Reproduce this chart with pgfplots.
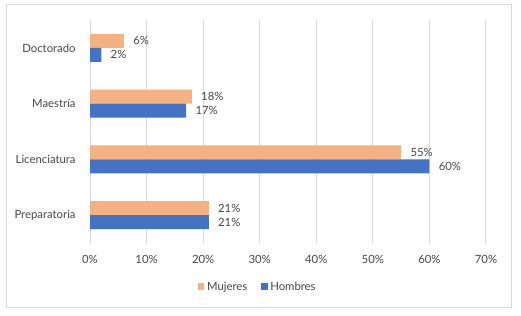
\documentclass[border=0pt]{standalone}
\usepackage{pgfplots}
\pgfplotsset{compat=1.18}
\usepackage{fontspec}
\setmainfont{Lato}
\definecolor{muj}{HTML}{F4B183}
\definecolor{hom}{HTML}{4472C4}
\definecolor{txt}{HTML}{474747}
\definecolor{grd}{HTML}{D9D9D9}
\begin{document}
\begin{tikzpicture}
\fill[white] (0pt,0pt) rectangle (390.75pt,236.25pt);
\draw[grd, line width=0.75pt] (4.5pt,6pt) rectangle (383.25pt,232.5pt);
\begin{axis}[
  at={(67.5pt,54pt)}, anchor=south west,
  scale only axis, width=297pt, height=167.25pt,
  xbar, bar width=10.5pt,
  xmin=0, xmax=70, ymin=-0.5, ymax=3.5,
  xtick={0,10,...,70},
  xticklabel={\pgfmathprintnumber{\tick}\%},
  ytick={0,1,2,3},
  yticklabels={Preparatoria,Licenciatura,Maestría,Doctorado},
  xmajorgrids, grid style={grd, line width=0.75pt},
  axis line style={draw=none}, tick style={draw=none},
  tick label style={font=\fontsize{8.5}{10}\selectfont, text=txt},
  xticklabel style={yshift=-5.5pt},
  yticklabel style={xshift=-3pt},
  /pgf/number format/assume math mode=true,
  point meta=x,
  nodes near coords={\pgfmathprintnumber{\pgfplotspointmeta}\%},
  nodes near coords style={anchor=west, font=\fontsize{8.5}{10}\selectfont, text=txt, xshift=3.5pt, /pgf/number format/assume math mode=true},
  legend style={at={(0.424,-0.197)}, anchor=center, draw=none, legend columns=2, font=\fontsize{8.5}{10}\selectfont, text=txt, /tikz/every even column/.append style={column sep=8pt}},
  legend image code/.code={\fill[#1] (0pt,-2.6pt) rectangle (5.2pt,2.6pt);},
]
\addplot[fill=muj, draw=none, bar shift=5.25pt] coordinates {(21,0) (55,1) (18,2) (6,3)};
\addplot[fill=hom, draw=none, bar shift=-5.25pt] coordinates {(21,0) (60,1) (17,2) (2,3)};
\legend{Mujeres,Hombres}
\end{axis}
\end{tikzpicture}
\end{document}
